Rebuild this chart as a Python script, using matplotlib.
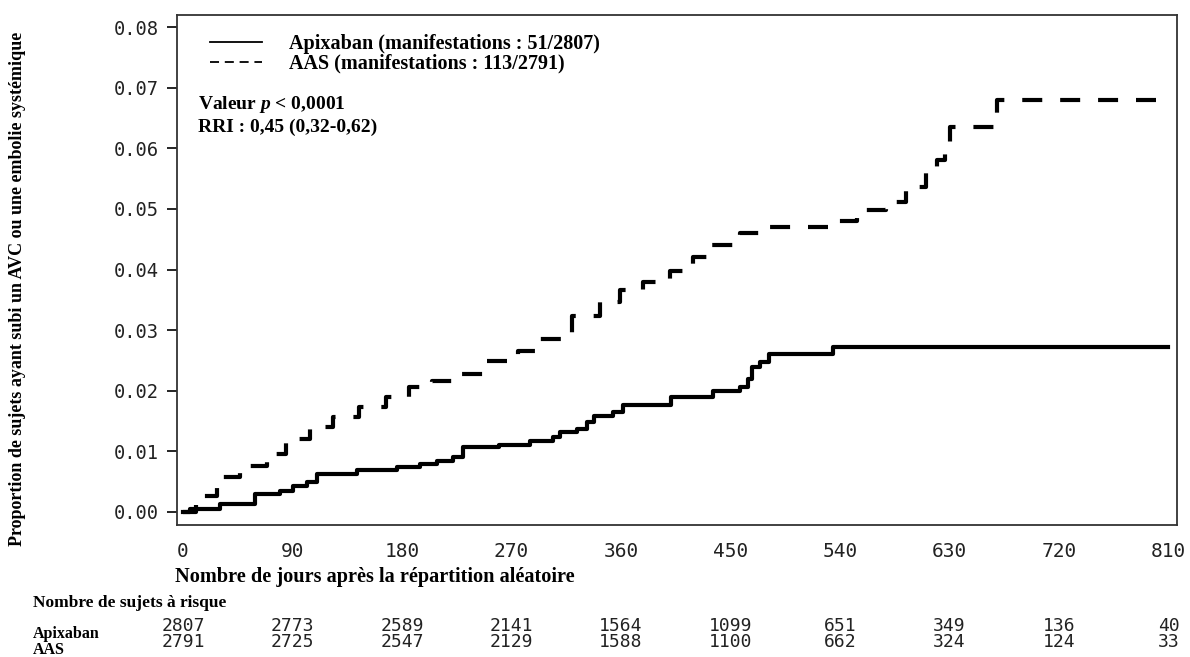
import numpy as np
import matplotlib
matplotlib.use("Agg")
import matplotlib.pyplot as plt
from matplotlib.lines import Line2D
import matplotlib.transforms as mtransforms

# Kaplan-Meier style cumulative incidence
apix_days = [0, 6, 30, 59, 80, 90, 102, 110, 143, 176, 195, 209, 222, 230, 260, 285,
             304, 310, 324, 332, 338, 353, 362, 401, 436, 458, 464, 468, 474, 482, 534, 810]
apix_risk = [0.0, 0.0005, 0.0013, 0.003, 0.0035, 0.0043, 0.005, 0.0062, 0.007, 0.0074,
             0.0079, 0.0084, 0.009, 0.0107, 0.011, 0.0117, 0.0123, 0.0132, 0.0137, 0.0148,
             0.0158, 0.0165, 0.0176, 0.019, 0.020, 0.0207, 0.0219, 0.0239, 0.0247, 0.026,
             0.0272, 0.0272]

aas_days = [0, 11, 28, 47, 69, 85, 104, 123, 145, 167, 186, 205, 222, 248, 275, 293, 320,
            343, 359, 378, 400, 419, 433, 458, 482, 534, 554, 578, 594, 611, 620, 626, 630,
            669, 810]
aas_risk = [0.0, 0.0027, 0.0058, 0.0076, 0.0095, 0.012, 0.014, 0.0156, 0.0173, 0.019,
            0.0206, 0.0216, 0.0227, 0.0249, 0.0265, 0.0285, 0.0323, 0.0346, 0.0367, 0.038,
            0.0398, 0.042, 0.0441, 0.0461, 0.047, 0.048, 0.0499, 0.0512, 0.0537, 0.0561,
            0.0581, 0.0602, 0.0635, 0.068, 0.068]

x_ticks = [0, 90, 180, 270, 360, 450, 540, 630, 720, 810]
y_ticks = [0.00, 0.01, 0.02, 0.03, 0.04, 0.05, 0.06, 0.07, 0.08]
at_risk_apix = [2807, 2773, 2589, 2141, 1564, 1099, 651, 349, 136, 40]
at_risk_aas = [2791, 2725, 2547, 2129, 1588, 1100, 662, 324, 124, 33]

serif = "Liberation Serif"
mono = "DejaVu Sans Mono"
plt.rcParams["mathtext.fontset"] = "custom"
plt.rcParams["mathtext.it"] = "Liberation Serif:italic:bold"
plt.rcParams["mathtext.rm"] = "Liberation Serif:bold"

fig = plt.figure(figsize=(11.9, 6.57), dpi=100)
ax = fig.add_axes([177 / 1190, 1 - 525 / 657, 1000 / 1190, 510 / 657])

ax.step(apix_days, apix_risk, where="post", color="black", lw=3.0)
ax.step(aas_days, aas_risk, where="post", color="black", lw=3.0, dashes=(4.8, 4.3))

ax.set_xlim(-5, 817)
ax.set_ylim(-0.00215, 0.082)
ax.set_xticks(x_ticks)
ax.set_yticks(y_ticks)
ax.set_yticklabels(["%.2f" % v for v in y_ticks])
ax.tick_params(axis="x", length=0, pad=12, labelsize=14)
ax.tick_params(axis="y", length=7, width=1.2, pad=6, labelsize=13.5)
for lab in ax.get_xticklabels() + ax.get_yticklabels():
    lab.set_fontfamily(mono)
    lab.set_color("#222222")
for sp in ax.spines.values():
    sp.set_linewidth(1.3)
    sp.set_color("#333333")

# legend with thin sample lines
handles = [Line2D([], [], color="black", lw=1.3),
           Line2D([], [], color="black", lw=1.3, dashes=(5, 3.2))]
labels = ["Apixaban (manifestations : 51/2807)", "AAS (manifestations : 113/2791)"]
ax.legend(handles, labels, loc="upper left", bbox_to_anchor=(0.033, 0.963),
          frameon=False, borderpad=0, borderaxespad=0, handlelength=2.6,
          handletextpad=1.3, labelspacing=0.0,
          prop={"family": serif, "weight": "bold", "size": 14.5})

ax.text(0.021, 0.824, r"Valeur $p$ < 0,0001", transform=ax.transAxes, family=serif,
        weight="bold", size=14, va="center", ha="left")
ax.text(0.021, 0.78, "RRI : 0,45 (0,32-0,62)", transform=ax.transAxes, family=serif,
        weight="bold", size=14, va="center", ha="left")

fig.text(18 / 1190, 1 - 289 / 657,
         "Proportion de sujets ayant subi un AVC ou une embolie systémique",
         rotation=90, ha="center", va="center", family=serif, weight="bold", size=13)
fig.text(175 / 1190, 1 - 577 / 657, "Nombre de jours après la répartition aléatoire",
         ha="left", va="center", family=serif, weight="bold", size=14.6)

# number at risk table
fig.text(33 / 1190, 1 - 603 / 657, "Nombre de sujets à risque", ha="left", va="center",
         family=serif, weight="bold", size=12.5)
fig.text(33 / 1190, 1 - 634 / 657, "Apixaban", ha="left", va="center",
         family=serif, weight="bold", size=11.5)
fig.text(33 / 1190, 1 - 650 / 657, "AAS", ha="left", va="center",
         family=serif, weight="bold", size=11.5)
trans = mtransforms.blended_transform_factory(ax.transData, fig.transFigure)
for d, a, b in zip(x_ticks, at_risk_apix, at_risk_aas):
    ax.text(d, 1 - 626 / 657, str(a), transform=trans, ha="center", va="center",
            family=mono, size=13, color="#222222", clip_on=False)
    ax.text(d, 1 - 642 / 657, str(b), transform=trans, ha="center", va="center",
            family=mono, size=13, color="#222222", clip_on=False)

fig.savefig("out.png", dpi=100)
